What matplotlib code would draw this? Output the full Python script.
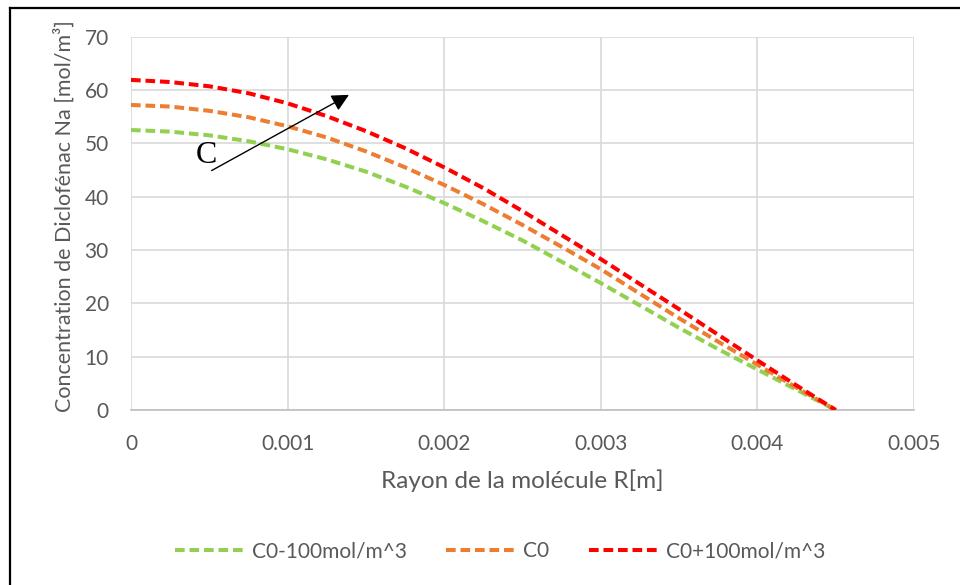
import matplotlib.pyplot as plt
from matplotlib.lines import Line2D

# radius positions [m] and concentration profiles [mol/m3]
rayon = [0, 0.00025, 0.0005, 0.00075, 0.001, 0.00125, 0.0015, 0.00175, 0.002,
         0.00225, 0.0025, 0.00275, 0.003, 0.00325, 0.0035, 0.00375, 0.004,
         0.00425, 0.0045]
c_moins = [52.5, 52.2, 51.5, 50.4, 48.9, 47.0, 44.7, 41.9, 38.8,
           35.4, 31.8, 27.8, 23.8, 19.6, 15.4, 11.4, 7.6, 3.8, 0.0]
c_zero = [57.2, 56.9, 56.1, 54.9, 53.2, 51.1, 48.5, 45.5, 42.2,
          38.6, 34.7, 30.6, 26.4, 21.8, 17.2, 12.8, 8.5, 4.2, 0.0]
c_plus = [61.9, 61.5, 60.7, 59.4, 57.5, 55.1, 52.3, 49.1, 45.5,
          41.6, 37.3, 32.8, 28.3, 23.6, 18.9, 14.1, 9.3, 4.6, 0.0]

series = [(c_moins, '#92D050', 'C0-100mol/m^3'),
          (c_zero, '#ED7D31', 'C0'),
          (c_plus, '#FF0000', 'C0+100mol/m^3')]

xticks = [0, 0.001, 0.002, 0.003, 0.004, 0.005]
xticklabels = ['0', '0.001', '0.002', '0.003', '0.004', '0.005']
yticks = [0, 10, 20, 30, 40, 50, 60, 70]

plt.rcParams['font.family'] = ['Lato', 'DejaVu Sans']
grey = '#595959'
dash = (0, (2.4, 1.2))

fig = plt.figure(figsize=(9.6, 5.85), dpi=100)
ax = fig.add_axes([0.13646, 0.29915, 0.81563, 0.63812])

for vals, col, lab in series:
    ax.plot(rayon, vals, color=col, lw=2.9, linestyle=dash, label=lab,
            zorder=3)

ax.set_xlim(0, 0.005)
ax.set_ylim(0, 70)
ax.set_xticks(xticks)
ax.set_xticklabels(xticklabels)
ax.set_yticks(yticks)
ax.grid(True, color='#D9D9D9', lw=1.2)
ax.set_axisbelow(True)
for s in ['top', 'right', 'left']:
    ax.spines[s].set_visible(False)
ax.spines['bottom'].set_color('#BFBFBF')
ax.spines['bottom'].set_linewidth(1.2)
ax.tick_params(axis='both', length=0, labelsize=15, labelcolor=grey)
ax.tick_params(axis='x', pad=17)
ax.tick_params(axis='y', pad=16)

ax.set_xlabel('Rayon de la molécule R[m]', fontsize=17.5, color=grey)
ax.xaxis.set_label_coords(0.5, -0.16)
ax.set_ylabel('Concentration de Diclofénac Na [mol/m³]', fontsize=15.5,
              color=grey)
ax.yaxis.set_label_coords(-0.072, 0.52)

# arrow showing increasing concentration
ax.annotate('', xy=(0.001392, 59.1), xytext=(0.000515, 44.9),
            arrowprops=dict(arrowstyle='-|>', color='black', lw=1,
                            mutation_scale=26, shrinkA=0, shrinkB=0),
            zorder=4)
ax.text(0.000483, 47.7, 'C', fontsize=23, family='Liberation Serif',
        ha='center', va='center', zorder=4)

handles = [Line2D([], [], color=col, lw=2.9, linestyle=dash)
           for vals, col, lab in series]
fig.legend(handles, [lab for vals, col, lab in series], loc='center',
           bbox_to_anchor=(500 / 960, 1 - 551 / 585), ncol=3, frameon=False,
           fontsize=15, handlelength=3.4, handletextpad=0.3,
           columnspacing=1.9, labelcolor=grey)

# chart frame (top and left edges)
fig.add_artist(Line2D([10 / 960, 10 / 960], [0, 1 - 7.5 / 585],
                      color='black', lw=1.6, transform=fig.transFigure))
fig.add_artist(Line2D([10 / 960, 1], [1 - 7.5 / 585, 1 - 7.5 / 585],
                      color='black', lw=1.6, transform=fig.transFigure))

fig.savefig('out.png', dpi=100)
